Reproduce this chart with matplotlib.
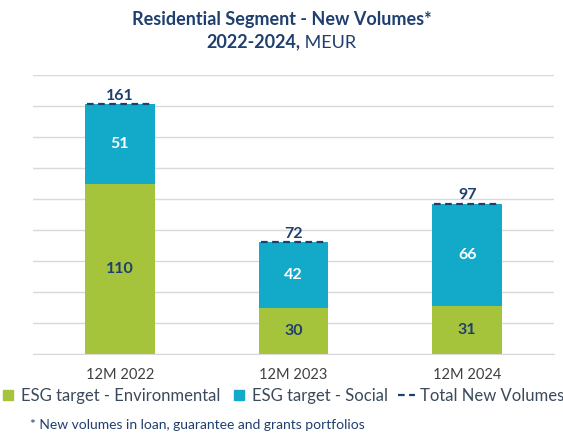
import matplotlib
matplotlib.use("Agg")
import matplotlib.pyplot as plt
from matplotlib.lines import Line2D
from matplotlib.offsetbox import TextArea, HPacker, AnchoredOffsetbox
import numpy as np

categories = ["12M 2022", "12M 2023", "12M 2024"]
environmental = [110, 30, 31]
social = [51, 42, 66]
totals = [161, 72, 97]

GREEN = "#A5C43B"
BLUE = "#13AAC9"
NAVY = "#1F3F6E"
GRID = "#D9D9D9"

plt.rcParams['font.family'] = ['Lato', 'DejaVu Sans']

fig = plt.figure(figsize=(5.63, 4.34), dpi=100)
ax = fig.add_axes([33/563, 80/434, (554-33)/563, (354-75)/434])

x = np.arange(len(categories))
w = 0.4
ax.bar(x, environmental, w, color=GREEN, zorder=2)
ax.bar(x, social, w, bottom=environmental, color=BLUE, zorder=2)
ax.hlines(totals, x - w/2 + 0.01, x + w/2 - 0.02, colors=NAVY, linestyles=(0, (3, 2)), lw=1.6, zorder=3)

for i in range(len(x)):
    ax.text(x[i], environmental[i]/2, str(environmental[i]), ha='center', va='center',
            color=NAVY, fontsize=11.5, fontweight='bold', zorder=4)
    ax.text(x[i], environmental[i] + social[i]/2, str(social[i]), ha='center', va='center',
            color='white', fontsize=11.5, fontweight='bold', zorder=4)
    ax.text(x[i], totals[i] + 1, str(totals[i]), ha='center', va='bottom',
            color=NAVY, fontsize=11.5, fontweight='bold', zorder=4)

ax.set_xlim(-0.5, 2.5)
ax.set_ylim(0, 180)
ax.set_yticks(np.arange(0, 181, 20))
ax.yaxis.grid(True, color=GRID, lw=1, zorder=0)
ax.set_yticklabels([])
ax.tick_params(axis='y', length=0)
ax.tick_params(axis='x', length=0, pad=10, labelsize=10.5, labelcolor='#404040')
ax.set_xticks(x)
ax.set_xticklabels(categories)
for s in ['top', 'right', 'left']:
    ax.spines[s].set_visible(False)
ax.spines['bottom'].set_color(GRID)

fig.text(0.5, 1 - 20/434, "Residential Segment - New Volumes*", ha='center', va='center',
         color=NAVY, fontsize=13, fontweight='bold')
ta1 = TextArea("2022-2024,", textprops=dict(color=NAVY, fontsize=13, fontweight='bold'))
ta2 = TextArea(" MEUR", textprops=dict(color=NAVY, fontsize=13, fontweight='normal'))
pack = HPacker(children=[ta1, ta2], align='baseline', pad=0, sep=0)
ab = AnchoredOffsetbox(loc='center', child=pack, bbox_to_anchor=(0.5, 1 - 42/434),
                       bbox_transform=fig.transFigure, frameon=False, pad=0, borderpad=0)
fig.add_artist(ab)

handles = [
    Line2D([0], [0], marker='s', color='none', markerfacecolor=GREEN, markeredgecolor=GREEN, markersize=7),
    Line2D([0], [0], marker='s', color='none', markerfacecolor=BLUE, markeredgecolor=BLUE, markersize=7),
    Line2D([0], [0], color=NAVY, linestyle=(0, (3, 2)), lw=1.6),
]
labels = ["ESG target - Environmental", "ESG target - Social", "Total New Volumes"]
fig.legend(handles, labels, loc='center', bbox_to_anchor=(0.5, 1 - 396/434), ncol=3,
           frameon=False, fontsize=12, handlelength=1.0, handletextpad=0.3, columnspacing=0.6,
           labelcolor='#3A4A5C')

fig.text(30/563, 1 - 425/434, "* New volumes in loan, guarantee and grants portfolios",
         ha='left', va='center', color=NAVY, fontsize=10)

fig.savefig("out.png", dpi=100)
